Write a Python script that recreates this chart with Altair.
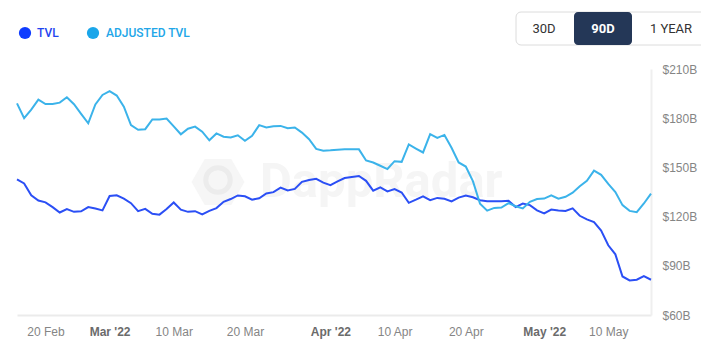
import altair as alt
import pandas as pd

# ---- data (daily, 16 Feb – 16 May 2022, $B) ----
start_date = "2022-02-16"
n_days = 90

tvl = [142.7, 140.2, 133.0, 129.8, 128.7, 125.8, 122.5, 124.6, 122.9, 123.2,
       125.8, 124.9, 123.8, 132.6, 133.0, 131.0, 128.2, 123.3, 124.7, 121.7,
       121.2, 124.6, 128.6, 124.2, 122.9, 123.3, 121.3, 123.5, 125.2, 129.0,
       130.7, 132.9, 132.4, 130.3, 131.2, 134.1, 134.9, 137.7, 135.9, 136.9,
       141.2, 142.3, 143.0, 140.7, 139.2, 141.5, 143.5, 144.2, 144.8, 141.8,
       135.8, 137.8, 135.4, 136.8, 134.7, 128.4, 130.3, 132.4, 130.0, 131.4,
       130.9, 129.3, 131.6, 132.9, 131.8, 130.0, 129.3, 129.3, 129.4, 129.6,
       125.8, 127.9, 127.0, 123.8, 121.9, 124.3, 123.7, 123.4, 125.0, 120.5,
       118.3, 116.6, 111.5, 102.5, 97.0, 83.5, 81.1, 81.5, 83.7, 81.5]

adjusted_tvl = [189.0, 180.0, 185.2, 191.3, 188.6, 188.6, 189.5, 192.8, 188.5, 182.6,
                176.9, 188.4, 194.2, 196.5, 193.8, 187.0, 175.8, 172.9, 173.3, 179.2,
                179.2, 179.8, 175.0, 170.2, 173.6, 174.9, 171.8, 166.5, 170.7, 168.7,
                168.2, 169.6, 166.2, 169.3, 175.8, 174.4, 175.1, 175.3, 173.9, 174.3,
                171.2, 167.2, 161.3, 160.1, 160.4, 160.8, 161.0, 161.1, 161.0, 154.2,
                153.0, 151.0, 149.0, 153.8, 153.4, 164.0, 161.5, 159.1, 170.3, 168.0,
                169.8, 162.0, 153.0, 150.5, 141.6, 127.8, 123.6, 125.3, 125.5, 128.2,
                126.3, 125.0, 129.0, 130.7, 131.0, 133.0, 130.9, 132.1, 134.6, 138.5,
                141.8, 148.0, 145.5, 139.9, 135.0, 127.0, 123.5, 122.7, 128.0, 134.0]

series_names = ["TVL", "ADJUSTED TVL"]
series_colors = ["#2b4ff5", "#3bb3ea"]
legend_colors = ["#0f3cff", "#1aa6ea"]
legend_text_colors = ["#1f45f0", "#22a6e8"]
x_tick_dates = [(2, 20), (3, 1), (3, 10), (3, 20), (4, 1), (4, 10), (4, 20), (5, 1), (5, 10)]
y_ticks = [60, 90, 120, 150, 180, 210]
button_labels = ["30D", "90D", "1 YEAR"]
watermark = "DappRadar"

# ---- table ----
dates = pd.date_range(start_date, periods=n_days, freq="D").strftime("%Y-%m-%d")
df = pd.DataFrame({
    "date": list(dates) * 2,
    "series": [series_names[0]] * n_days + [series_names[1]] * n_days,
    "value": tvl + adjusted_tvl,
})

one = pd.DataFrame({"k": [0]})

x_axis = alt.Axis(
    values=[alt.DateTime(year=2022, month=m, date=d, utc=True) for m, d in x_tick_dates],
    labelExpr="utcdate(datum.value) == 1 ? utcFormat(datum.value, \"%b '%y\") : utcFormat(datum.value, '%d %b')",
    labelFontWeight={"condition": {"test": "utcdate(datum.value) == 1", "value": "bold"}, "value": "normal"},
    labelColor={"condition": {"test": "utcdate(datum.value) == 1", "value": "#6b6b6b"}, "value": "#858585"},
    labelFont="Liberation Sans", labelFontSize=12, labelPadding=11,
    ticks=False, grid=False, title=None,
    domainColor="#ebebeb", domainWidth=2, labelOverlap=False,
)

y_axis = alt.Axis(
    orient="right", values=y_ticks,
    labelExpr="'$' + datum.value + 'B'",
    labelFont="Liberation Sans", labelFontSize=12, labelColor="#858585", labelPadding=11,
    ticks=False, grid=False, title=None,
    domainColor="#efefef", domainWidth=2,
)

# faint watermark
hexagon = "M-1,0L-0.5,-0.866L0.5,-0.866L1,0L0.5,0.866L-0.5,0.866Z"
wm_logo = alt.Chart(one).mark_point(shape=hexagon, filled=True, size=2800, opacity=1, color="#f6f6f6").encode(
    x=alt.value(201), y=alt.value(113))
wm_ring = alt.Chart(one).mark_point(shape="circle", filled=False, size=600, strokeWidth=5, opacity=1,
                                    color="#ececec").encode(x=alt.value(201), y=alt.value(111))
wm = alt.Chart(one).mark_text(
    text=watermark, font="Roboto", fontSize=49, fontWeight="bold", color="#f5f5f5", align="left", baseline="middle"
).encode(x=alt.value(243), y=alt.value(113))

lines = alt.Chart(df).mark_line(strokeWidth=2, interpolate="linear").encode(
    x=alt.X("date:T", scale=alt.Scale(type="utc", nice=False), axis=x_axis),
    y=alt.Y("value:Q", scale=alt.Scale(domain=[60, 210], nice=False, zero=False), axis=y_axis),
    color=alt.Color("series:N", scale=alt.Scale(domain=series_names, range=series_colors), legend=None),
    order=alt.Order("date:T"),
)

# manual legend (circle + coloured label)
leg_dot1 = alt.Chart(one).mark_point(shape="circle", filled=True, size=150, opacity=1, color=legend_colors[0]).encode(
    x=alt.value(8), y=alt.value(-36))
leg_txt1 = alt.Chart(one).mark_text(text=series_names[0], font="Roboto", fontSize=12, fontWeight=500,
                                    color=legend_text_colors[0], align="left", baseline="middle").encode(
    x=alt.value(20), y=alt.value(-36))
leg_dot2 = alt.Chart(one).mark_point(shape="circle", filled=True, size=150, opacity=1, color=legend_colors[1]).encode(
    x=alt.value(76), y=alt.value(-36))
leg_txt2 = alt.Chart(one).mark_text(text=series_names[1], font="Roboto", fontSize=12, fontWeight=500,
                                    color=legend_text_colors[1], align="left", baseline="middle").encode(
    x=alt.value(89), y=alt.value(-36))

# period buttons
frame = alt.Chart(one).mark_rect(cornerRadius=5, fill="white", stroke="#dcdcdc", strokeWidth=1).encode(
    x=alt.value(499), x2=alt.value(692), y=alt.value(-57), y2=alt.value(-24)
)
active = alt.Chart(one).mark_rect(cornerRadius=4, fill="#243757").encode(
    x=alt.value(557), x2=alt.value(615), y=alt.value(-57), y2=alt.value(-24)
)
b1 = alt.Chart(one).mark_text(text=button_labels[0], font="Roboto", fontSize=13, color="#333333").encode(
    x=alt.value(527), y=alt.value(-40))
b2 = alt.Chart(one).mark_text(text=button_labels[1], font="Roboto", fontSize=13, fontWeight="bold", color="#ffffff").encode(
    x=alt.value(586), y=alt.value(-40))
b3 = alt.Chart(one).mark_text(text=button_labels[2], font="Roboto", fontSize=13, color="#333333").encode(
    x=alt.value(654), y=alt.value(-40))

chart = alt.layer(wm_logo, wm_ring, wm, lines, leg_dot1, leg_txt1, leg_dot2, leg_txt2,
                  frame, active, b1, b2, b3).properties(
    width=634, height=246,
    autosize=alt.AutoSizeParams(type="none"),
    padding={"left": 9, "top": 61, "right": 50, "bottom": 30},
).configure(background="white").configure_view(stroke=None)

chart.save("out.html", embed_options={"renderer": "svg", "actions": False})
